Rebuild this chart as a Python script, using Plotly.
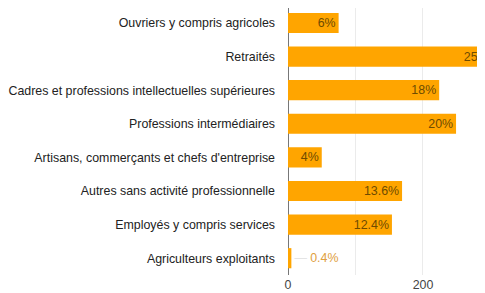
import plotly.graph_objects as go

categories = [
    "Ouvriers y compris agricoles",
    "Retraités",
    "Cadres et professions intellectuelles supérieures",
    "Professions intermédiaires",
    "Artisans, commerçants et chefs d'entreprise",
    "Autres sans activité professionnelle",
    "Employés y compris services",
    "Agriculteurs exploitants",
]
counts = [75, 317, 224, 249, 50, 169, 154, 5]
labels = ["6%", "25.5%", "18%", "20%", "4%", "13.6%", "12.4%", "0.4%"]

positions = ["inside" if c > 20 else "outside" for c in counts]
display = [
    t if p == "inside" else '<span style="color:#e4e4e4">—</span> ' + t
    for t, p in zip(labels, positions)
]

FONT = "Liberation Sans, Arial"

fig = go.Figure(
    go.Bar(
        y=categories,
        x=counts,
        orientation="h",
        marker=dict(color="#FFA500", line=dict(width=0)),
        text=display,
        textposition=positions,
        insidetextanchor="end",
        insidetextfont=dict(color="#6e4b00", size=12.4, family=FONT),
        outsidetextfont=dict(color="#e0a040", size=12.4, family=FONT),
        textangle=0,
        constraintext="none",
        cliponaxis=True,
        width=0.6,
    )
)

fig.update_layout(
    width=520,
    height=285,
    autosize=False,
    margin=dict(l=280, r=0, t=0, b=18),
    paper_bgcolor="white",
    plot_bgcolor="white",
    showlegend=False,
    font=dict(family=FONT, size=12.4, color="#333333"),
    bargap=0.4,
    uniformtext=dict(minsize=12, mode="show"),
)
fig.update_xaxes(
    range=[0, 355.6],
    tickvals=[0, 100, 200, 300],
    ticktext=["0", "", "200", ""],
    showgrid=True,
    gridcolor="#ebebeb",
    zeroline=True,
    zerolinecolor="#777777",
    zerolinewidth=1,
    tickfont=dict(size=12.4, color="#444444"),
    ticklabelstandoff=1,
    automargin=False,
    showline=False,
    fixedrange=True,
)
fig.update_yaxes(
    range=[7.5, -0.446],
    showgrid=False,
    ticklabelstandoff=12,
    tickfont=dict(size=12.4, color="#222222"),
    fixedrange=True,
)

fig.write_html("out.html", config={"displayModeBar": False})
